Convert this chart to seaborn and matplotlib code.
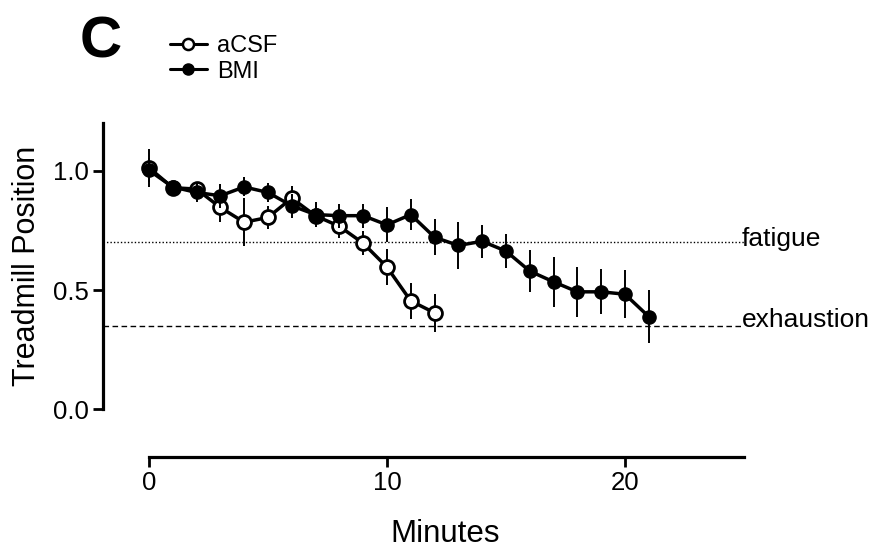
import numpy as np
import pandas as pd
import matplotlib
matplotlib.use("Agg")
import matplotlib.pyplot as plt
import seaborn as sns
from matplotlib.lines import Line2D

# values (mean +/- SEM)
acsf_minutes = list(range(13))
acsf_mean = [1.014, 0.93, 0.924, 0.847, 0.785, 0.805, 0.886, 0.812, 0.768, 0.697, 0.597, 0.455, 0.405]
acsf_sem = [0.08, 0.02, 0.03, 0.06, 0.10, 0.05, 0.05, 0.04, 0.05, 0.05, 0.074, 0.074, 0.08]

bmi_minutes = list(range(22))
bmi_mean = [1.003, 0.933, 0.91, 0.896, 0.933, 0.91, 0.854, 0.817, 0.8125, 0.8125, 0.774, 0.817,
            0.722, 0.6875, 0.705, 0.664, 0.58, 0.535, 0.493, 0.493, 0.483, 0.389]
bmi_sem = [0.05, 0.02, 0.04, 0.05, 0.04, 0.04, 0.05, 0.053, 0.05, 0.05, 0.073, 0.065,
           0.076, 0.097, 0.069, 0.072, 0.087, 0.105, 0.105, 0.095, 0.1, 0.11]

fatigue_level = 0.7
exhaustion_level = 0.35
x_ticks = [0, 10, 20]
y_ticks = [0.0, 0.5, 1.0]
group_labels = ["aCSF", "BMI"]

sns.set_style("ticks", {'text.color': 'black', 'axes.labelcolor': 'black',
                        'xtick.color': 'black', 'ytick.color': 'black',
                        'axes.edgecolor': 'black'})
plt.rcParams['font.family'] = ['Liberation Sans', 'DejaVu Sans']

acsf = pd.DataFrame({'Minutes': acsf_minutes, 'Position': acsf_mean, 'sem': acsf_sem})
bmi = pd.DataFrame({'Minutes': bmi_minutes, 'Position': bmi_mean, 'sem': bmi_sem})

fig = plt.figure(figsize=(8.77, 5.52), dpi=100)
ax = fig.add_axes([0.1174, 0.1721, 0.7309, 0.6045])

# reference lines
ax.axhline(fatigue_level, color='black', lw=1.0, ls=(0, (1, 1.5)), zorder=1)
ax.axhline(exhaustion_level, color='black', lw=1.0, ls=(0, (4, 2.5)), zorder=1)

# aCSF: open circles
ax.errorbar(acsf['Minutes'], acsf['Position'], yerr=acsf['sem'], fmt='none',
            ecolor='black', elinewidth=1.4, capsize=0, zorder=2)
sns.lineplot(data=acsf, x='Minutes', y='Position', ax=ax, color='black', lw=2.5,
             marker='o', markersize=10, markerfacecolor='white', markeredgecolor='black',
             markeredgewidth=2.0, zorder=3)

# BMI: filled circles
ax.errorbar(bmi['Minutes'], bmi['Position'], yerr=bmi['sem'], fmt='none',
            ecolor='black', elinewidth=1.4, capsize=0, zorder=4)
sns.lineplot(data=bmi, x='Minutes', y='Position', ax=ax, color='black', lw=2.5,
             marker='o', markersize=9.5, markerfacecolor='black', markeredgecolor='black',
             markeredgewidth=1, zorder=5)

ax.text(24.9, fatigue_level + 0.015, 'fatigue', ha='left', va='center', fontsize=19, clip_on=False)
ax.text(24.9, exhaustion_level + 0.025, 'exhaustion', ha='left', va='center', fontsize=19, clip_on=False)

# Prism-like axes
ax.set_xlim(-1.93, 25)
ax.set_ylim(-0.2, 1.2)
ax.spines['top'].set_visible(False)
ax.spines['right'].set_visible(False)
ax.spines['left'].set_bounds(0, 1.2)
ax.spines['bottom'].set_bounds(0, 25)
ax.spines['left'].set_linewidth(2.3)
ax.spines['bottom'].set_linewidth(2.3)
ax.set_xticks(x_ticks)
ax.set_yticks(y_ticks)
ax.set_yticklabels([f"{v:.1f}" for v in y_ticks])
ax.tick_params(axis='both', width=2, length=7, labelsize=18.5, color='black', labelcolor='black')
ax.tick_params(axis='x', pad=3)

ax.set_xlabel('Minutes', fontsize=22.5)
ax.set_ylabel('Treadmill Position', fontsize=22)
ax.xaxis.set_label_coords(0.534, -0.185)
ax.yaxis.set_label_coords(-0.095, 0.572)

handles = [
    Line2D([], [], color='black', lw=2.2, marker='o', markersize=8,
           markerfacecolor='white', markeredgecolor='black', markeredgewidth=1.8),
    Line2D([], [], color='black', lw=2.2, marker='o', markersize=8,
           markerfacecolor='black', markeredgecolor='black'),
]
fig.legend(handles, group_labels, loc='upper left', bbox_to_anchor=(170 / 877, 1 - 35 / 552),
           frameon=False, handlelength=1.55, handletextpad=0.45, labelspacing=0.15,
           fontsize=17, borderaxespad=0, borderpad=0)

fig.text(101 / 877, 1 - 43 / 552, 'C', fontsize=42, fontweight='bold', ha='center', va='center')

fig.savefig('out.png', dpi=100)
